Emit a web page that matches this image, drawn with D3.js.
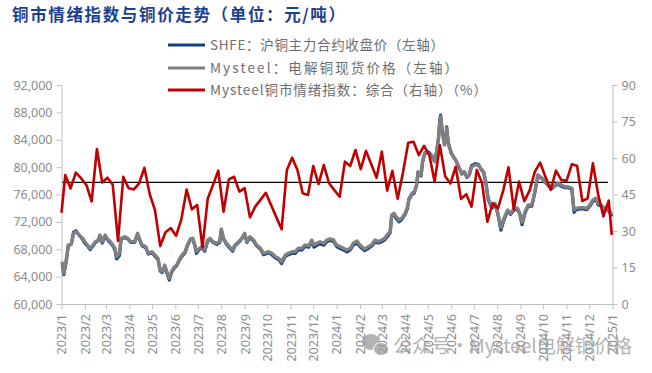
<!DOCTYPE html>
<html><head><meta charset="utf-8">
<script src="https://cdn.jsdelivr.net/npm/d3@7"></script>
<style>
body{margin:0;background:#fff;}
svg{display:block;}
</style></head>
<body>
<svg id="chart" width="652" height="373"></svg>
<script>
// ---------- DATA ----------
const titleText = "铜市情绪指数与铜价走势（单位：元/吨）";
const seriesNames = ["SHFE：沪铜主力合约收盘价（左轴）", "Mysteel：电解铜现货价格（左轴）", "Mysteel铜市情绪指数：综合（右轴）（%）"];
const xTickLabels = ["2023/1","2023/2","2023/3","2023/4","2023/5","2023/6","2023/7","2023/8","2023/9","2023/10","2023/11","2023/12",
  "2024/1","2024/2","2024/3","2024/4","2024/5","2024/6","2024/7","2024/8","2024/9","2024/10","2024/11","2024/12","2025/1"];
const leftTicks = [60000,64000,68000,72000,76000,80000,84000,88000,92000];
const rightTicks = [0,15,30,45,60,75,90];
const neutralLevel = 50;
const neutralDates = ["2023-01-02","2024-12-26"];

const priceDates = ["2023-01-02","2023-01-04","2023-01-07","2023-01-10","2023-01-14","2023-01-17","2023-01-20","2023-01-25","2023-01-29","2023-02-01",
"2023-02-05","2023-02-08","2023-02-12","2023-02-15","2023-02-19","2023-02-21","2023-02-24","2023-02-28","2023-03-03","2023-03-07",
"2023-03-10","2023-03-13","2023-03-15","2023-03-19","2023-03-21","2023-03-26","2023-03-30","2023-04-03","2023-04-08","2023-04-12",
"2023-04-15","2023-04-18","2023-04-23","2023-04-26","2023-05-01","2023-05-05","2023-05-09","2023-05-12","2023-05-15","2023-05-18",
"2023-05-22","2023-05-24","2023-05-27","2023-05-31","2023-06-03","2023-06-06","2023-06-10","2023-06-14","2023-06-17","2023-06-21",
"2023-06-24","2023-06-27","2023-06-29","2023-07-03","2023-07-06","2023-07-10","2023-07-14","2023-07-17","2023-07-21","2023-07-26",
"2023-07-30","2023-08-01","2023-08-04","2023-08-08","2023-08-13","2023-08-16","2023-08-19","2023-08-24","2023-08-28","2023-09-01",
"2023-09-04","2023-09-08","2023-09-13","2023-09-17","2023-09-22","2023-09-26","2023-10-03","2023-10-07","2023-10-12","2023-10-16",
"2023-10-20","2023-10-25","2023-10-29","2023-11-03","2023-11-07","2023-11-11","2023-11-16","2023-11-20","2023-11-25","2023-11-29",
"2023-12-02","2023-12-06","2023-12-10","2023-12-15","2023-12-19","2023-12-23","2023-12-28","2024-01-01","2024-01-06","2024-01-10",
"2024-01-15","2024-01-19","2024-01-23","2024-01-28","2024-02-01","2024-02-07","2024-02-12","2024-02-17","2024-02-21","2024-02-25",
"2024-03-01","2024-03-05","2024-03-08","2024-03-12","2024-03-14","2024-03-17","2024-03-20","2024-03-24","2024-03-27","2024-04-01",
"2024-04-04","2024-04-06","2024-04-10","2024-04-13","2024-04-16","2024-04-18","2024-04-22","2024-04-24","2024-04-27","2024-05-02",
"2024-05-06","2024-05-10","2024-05-13","2024-05-15","2024-05-17","2024-05-18","2024-05-20","2024-05-23","2024-05-25","2024-05-26",
"2024-05-28","2024-06-01","2024-06-04","2024-06-07","2024-06-10","2024-06-15","2024-06-18","2024-06-22","2024-06-25","2024-06-28",
"2024-07-03","2024-07-07","2024-07-10","2024-07-14","2024-07-17","2024-07-20","2024-07-25","2024-07-29","2024-08-02","2024-08-06",
"2024-08-10","2024-08-15","2024-08-19","2024-08-24","2024-08-28","2024-08-31","2024-09-03","2024-09-07","2024-09-11","2024-09-16",
"2024-09-20","2024-09-24","2024-09-27","2024-09-30","2024-10-03","2024-10-08","2024-10-12","2024-10-17","2024-10-21","2024-10-25",
"2024-10-30","2024-11-03","2024-11-08","2024-11-11","2024-11-14","2024-11-19","2024-11-23","2024-11-28","2024-12-02","2024-12-06",
"2024-12-10","2024-12-13","2024-12-17","2024-12-21","2024-12-25","2024-12-30","2024-12-31"];

const mysteelSpot = [66180,64490,66180,68620,68720,70330,70560,69980,69600,69100,
68520,68140,68620,69100,69350,70080,69100,70080,69500,69100,
68620,68140,66910,67410,69600,69830,69600,69100,69100,70330,
69350,68620,68370,67410,67640,67160,66680,64970,64720,65700,
64240,63760,64720,65450,65700,66430,67160,67640,68620,69500,
69600,68620,67640,68140,68370,67890,69350,69600,69100,68870,
69100,70960,69600,68870,68230,67890,68620,69100,69600,70330,
69100,69830,69350,68620,68140,67410,67640,67410,66910,66680,
66180,67160,67410,67640,67640,68140,68140,68620,68520,69350,
68620,68870,69100,68870,69350,69500,69350,68620,68370,68140,
67890,68140,68870,69200,68620,68040,68370,68720,69350,69100,
69350,69600,70080,70560,73000,73250,72760,72270,72500,73250,
74220,75450,76180,76410,77390,79330,78850,80790,82020,82020,
81520,80790,82250,83960,86640,87370,85180,83230,83960,85670,
83480,82020,81520,81040,80310,79090,79330,78600,78850,80060,
80310,80310,79820,79330,77870,75450,74220,74710,73250,71150,
72520,73730,73250,73980,73980,73250,71940,73490,74470,74470,
76410,78850,78600,78360,77870,77390,76900,77390,77630,77390,
77140,77140,76900,73740,73980,74080,74080,73980,74470,75200,
75450,74710,74470,73980,74220,73250,73000];

const shfeClose = [65900,64300,66000,68500,68800,70500,70700,70000,69450,68900,
68400,67950,68500,69000,69300,70000,68900,69900,69400,68900,
68500,67900,66600,67100,69500,69700,69500,69000,69000,70200,
69200,68500,68200,67300,67500,67000,66500,64800,64600,65500,
64100,63500,64600,65300,65600,66300,67000,67500,68500,69400,
69500,68500,67400,68000,68200,67700,69200,69500,69000,68700,
69000,70800,69500,68700,68100,67700,68500,69000,69500,70200,
69000,69700,69200,68500,68000,67200,67500,67200,66700,66500,
65900,67000,67200,67400,67400,67900,67900,68400,68300,69100,
68300,68600,68800,68600,69100,69300,69100,68400,68100,67900,
67600,67900,68600,68900,68400,67800,68100,68500,69100,68900,
69100,69400,69800,70400,72800,73100,72500,72000,72300,73100,
74000,75300,76000,76200,77300,79200,78700,80700,82100,82200,
81700,80900,82500,84100,87000,87600,85500,83500,84200,85900,
83600,82100,81500,81000,80300,79000,79300,78500,78900,80200,
80500,80400,79800,79200,77700,75300,74000,74600,73100,70800,
72300,73600,73100,73800,73800,73100,71600,73300,74300,74300,
76300,78800,78500,78300,77800,77300,76800,77300,77500,77200,
77000,77000,76800,73400,73800,73900,73900,73800,74300,75000,
75300,74500,74300,73800,74000,73000,72800];

// Sentiment index: edge readings plus weekly (Friday) readings from 2023-01-06
const sentimentFirst = {date:"2023-01-01", value:37.5};
const sentimentWeekStart = "2023-01-06";
const sentimentWeekly = [53.0,47.5,54.0,51.7,48.9,42.2,63.7,49.9,51.9,49.0,
25.9,52.3,47.6,47.1,49.6,56.0,45.2,38.6,23.8,29.5,
31.2,28.0,34.8,47.0,38.9,40.7,23.3,43.3,48.9,54.8,
37.9,51.2,52.3,46.2,47.6,35.6,40.0,42.8,45.7,40.7,
35.7,30.7,55.1,60.1,55.1,45.5,44.8,56.7,49.3,57.1,
49.6,46.8,44.1,58.5,56.7,63.3,55.4,62.9,57.4,51.9,
62.6,46.6,54.7,43.3,54.0,66.3,66.7,61.2,65.0,61.2,
50.2,65.2,52.5,49.5,56.4,43.2,45.1,40.0,55.1,49.6,
33.8,41.4,39.3,46.6,56.2,38.9,50.3,42.3,46.6,54.4,
58.1,52.3,46.9,54.8,51.0,50.6,57.4,56.8,42.3,43.4,
57.8,45.0,36.0,42.5];
const sentimentLast = {date:"2024-12-31", value:28.4};

// ---------- STYLE ----------
const COL_BLUE = "#123f8c", COL_GREY = "#808080", COL_RED = "#c00000";
const AXIS_COL = "#bfbfbf", LABEL_COL = "#8c8c8c";

const parse = d3.timeParse("%Y-%m-%d");
const svg = d3.select("#chart");
svg.append("rect").attr("width",652).attr("height",373).attr("fill","#fff");

const x = d3.scaleTime().domain([parse("2023-01-01"), parse("2025-01-01")]).range([61.5, 612.5]);
const yL = d3.scaleLinear().domain([60000, 92000]).range([304, 85]);
const yR = d3.scaleLinear().domain([0, 90]).range([304, 85]);

// Title
svg.append("text").attr("x",12).attr("y",21)
  .attr("font-family","'Noto Sans CJK SC', sans-serif").attr("font-weight","bold")
  .attr("font-size","16.5px").attr("textLength",333).attr("lengthAdjust","spacing")
  .attr("fill","#1d3f91")
  .text(titleText);

// Axes
const fontAxis = "'Noto Sans', 'DejaVu Sans', sans-serif";
function styleAxis(g){
  g.select(".domain").attr("stroke",AXIS_COL).attr("stroke-width",1);
  g.selectAll(".tick line").attr("stroke",AXIS_COL);
  g.selectAll(".tick text").attr("fill",LABEL_COL).attr("font-family",fontAxis).attr("font-size","12.5px");
}
const gL = svg.append("g").attr("transform","translate(61.5,0)")
  .call(d3.axisLeft(yL).tickValues(leftTicks).tickSize(5).tickSizeOuter(0).tickPadding(4).tickFormat(d3.format(",")));
styleAxis(gL);
const gR = svg.append("g").attr("transform","translate(612.5,0)")
  .call(d3.axisRight(yR).tickValues(rightTicks).tickSize(5).tickSizeOuter(0).tickPadding(4));
styleAxis(gR);
const xTickDates = xTickLabels.map(s => d3.timeParse("%Y/%m")(s));
const gB = svg.append("g").attr("transform","translate(0,304)")
  .call(d3.axisBottom(x).tickValues(xTickDates).tickSize(5).tickSizeOuter(0)
    .tickFormat((d,i) => xTickLabels[i]));
styleAxis(gB);
gB.selectAll(".tick text").attr("transform","rotate(-90)").attr("x",-10).attr("y",0)
  .attr("dy","0.35em").style("text-anchor","end");

// Neutral line
svg.append("line")
  .attr("x1", x(parse(neutralDates[0]))).attr("x2", x(parse(neutralDates[1])))
  .attr("y1", yR(neutralLevel)).attr("y2", yR(neutralLevel))
  .attr("stroke","#000").attr("stroke-width",1.4);

// Price lines
const pd = priceDates.map(parse);
const lineL = d3.line().x(d=>x(d[0])).y(d=>yL(d[1]));
svg.append("path").datum(pd.map((d,i)=>[d, shfeClose[i]]))
  .attr("d", lineL).attr("fill","none").attr("stroke",COL_BLUE).attr("stroke-width",3.2).attr("stroke-linejoin","round");
svg.append("path").datum(pd.map((d,i)=>[d, mysteelSpot[i]]))
  .attr("d", lineL).attr("fill","none").attr("stroke",COL_GREY).attr("stroke-width",3.4).attr("stroke-linejoin","round");

// Sentiment line
const ws = parse(sentimentWeekStart);
const sent = [[parse(sentimentFirst.date), sentimentFirst.value]]
  .concat(sentimentWeekly.map((v,i)=>[d3.timeDay.offset(ws, 7*i), v]))
  .concat([[parse(sentimentLast.date), sentimentLast.value]]);
svg.append("path").datum(sent)
  .attr("d", d3.line().x(d=>x(d[0])).y(d=>yR(d[1])))
  .attr("fill","none").attr("stroke",COL_RED).attr("stroke-width",2.6).attr("stroke-linejoin","round");

// Legend
const legendCols = [COL_BLUE, COL_GREY, COL_RED];
const legendY = [45, 68, 90];
const legendLen = [234, 248, 277];
seriesNames.forEach((name,i)=>{
  svg.append("line").attr("x1",168).attr("x2",205).attr("y1",legendY[i]).attr("y2",legendY[i])
    .attr("stroke",legendCols[i]).attr("stroke-width",3);
  svg.append("text").attr("x",210).attr("y",legendY[i]+5)
    .attr("font-family","'Noto Sans CJK SC', sans-serif").attr("font-size","13.5px")
    .attr("textLength",legendLen[i]).attr("lengthAdjust","spacing")
    .attr("fill","#6e6e6e").text(name);
});

// Watermark
const wm = svg.append("g").attr("opacity",0.75);
wm.append("ellipse").attr("cx",371).attr("cy",342).attr("rx",9).attr("ry",8).attr("fill","#9a9a9a");
wm.append("ellipse").attr("cx",381).attr("cy",349).attr("rx",7.5).attr("ry",6.5).attr("fill","#9a9a9a").attr("stroke","#fff").attr("stroke-width",1);
wm.append("text").attr("x",393).attr("y",353)
  .attr("font-family","'Noto Sans CJK SC', sans-serif").attr("font-size","19px")
  .attr("textLength",239).attr("lengthAdjust","spacingAndGlyphs")
  .attr("fill","#9a9a9a").text("公众号·Mysteel电解铜价格");
</script>
</body></html>
